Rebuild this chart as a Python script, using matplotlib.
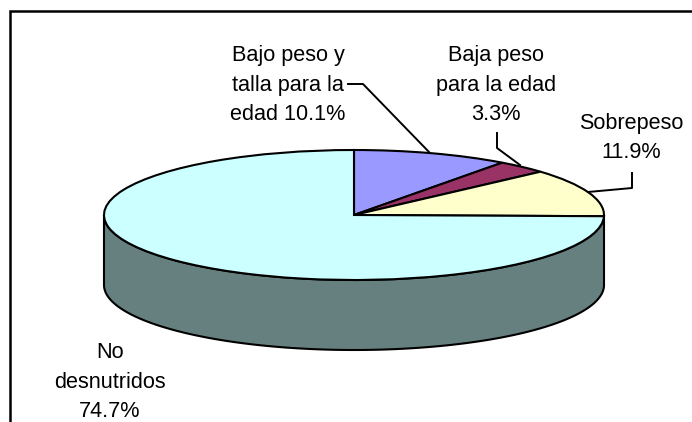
import numpy as np
import matplotlib
matplotlib.use("Agg")
import matplotlib.pyplot as plt
from matplotlib.lines import Line2D

plt.rcParams['font.family'] = ['Liberation Sans', 'DejaVu Sans']

# === DATA ===
categories = ["Bajo peso y\ntalla para la\nedad 10.1%", "Baja peso\npara la edad\n3.3%",
              "Sobrepeso\n11.9%", "No\ndesnutridos\n74.7%"]
values = [10.1, 3.3, 11.9, 74.7]
colors = ["#9999FF", "#993366", "#FFFFCC", "#CCFFFF"]
side_color = "#668080"

# === LAYOUT (pixels of the 692x422 picture) ===
W, H = 692, 422
cx, cy = 354, 215
rx, ry = 250, 65
depth = 70
label_pos = [(288, 85), (496, 85), (631, 138), (110, 382)]
leaders = [[(348, 84), (363, 84), (429, 152)],
           [(497, 133), (497, 148), (520, 165)],
           [(632, 173), (632, 188), (588, 192)]]


def fx(px):
    return px / W


def fy(py):
    return 1 - py / H


fig = plt.figure(figsize=(W / 100, H / 100), dpi=100, facecolor="white")
ax = fig.add_axes([0, 0, 1, 1])

# extruded side of the disc
t = np.linspace(np.pi, 2 * np.pi, 200)
xs = np.concatenate([np.cos(t), np.cos(t[::-1])])
ys = np.concatenate([np.sin(t), np.sin(t[::-1]) - depth / ry])
ax.fill(xs, ys, facecolor=side_color, edgecolor="black", lw=1.5, zorder=1)

# top face: a unit pie squashed by the axes limits
wedges, _ = ax.pie(values, colors=colors, startangle=90, counterclock=False, radius=1,
                   wedgeprops={"edgecolor": "black", "linewidth": 1.5})
for w in wedges:
    w.set_zorder(2)
ax.set_aspect("auto")
ax.set_xlim(-cx / rx, (W - cx) / rx)
ax.set_ylim(-(H - cy) / ry, cy / ry)
ax.axis("off")

for text, (px, py) in zip(categories, label_pos):
    fig.text(fx(px), fy(py), text, ha="center", va="center", fontsize=15.6,
             linespacing=1.52, color="black")

for pts in leaders:
    fig.add_artist(Line2D([fx(p[0]) for p in pts], [fy(p[1]) for p in pts],
                          color="black", lw=1.4))

# chart frame runs off the picture on the right and bottom
fig.add_artist(Line2D([fx(10), fx(10), fx(W)], [fy(H), fy(11), fy(11)],
                      color="black", lw=1.8, solid_joinstyle="miter"))

fig.savefig("out.png", dpi=100)
